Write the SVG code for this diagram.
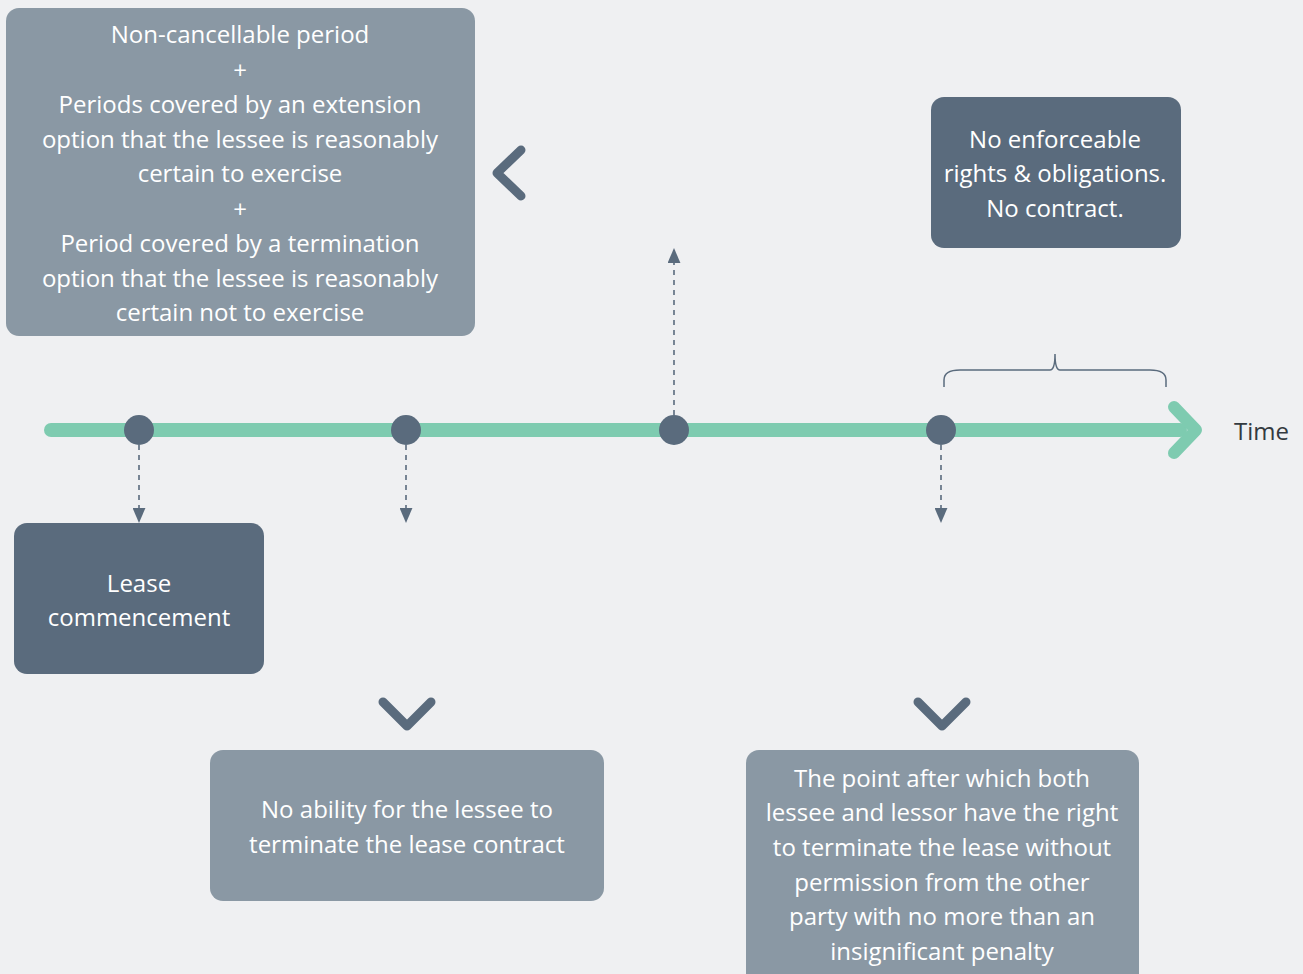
<svg xmlns="http://www.w3.org/2000/svg" width="1303" height="974" viewBox="0 0 1303 974">
<defs>
<style>
.bg{fill:#eff0f2}
.light{fill:#8a98a4}
.dark{fill:#5a6b7d}
.t{font-family:"Open Sans","Noto Sans","Liberation Sans",sans-serif;font-size:24px;fill:#ffffff;text-anchor:middle}
.time{font-family:"Open Sans","Noto Sans","Liberation Sans",sans-serif;font-size:24px;fill:#333a40}
.dash{stroke:#5a6b7d;stroke-width:1.6;stroke-dasharray:5 5;fill:none}
.chev{stroke:#5a6b7d;stroke-width:9;stroke-linecap:round;stroke-linejoin:round;fill:none}
.dot{fill:#5a6b7d}
</style>
<marker id="ahb" viewBox="0 0 14 12" refX="14" refY="6" markerWidth="15" markerHeight="13" markerUnits="userSpaceOnUse" orient="auto">
<path d="M0 0 L14 6 L0 12 Z" fill="#5a6b7d"/>
</marker>
</defs>
<rect class="bg" x="0" y="0" width="1303" height="974"/>

<g id="connectors">
<path d="M51 430 L1180 430" stroke="#7ecbb0" stroke-width="14" stroke-linecap="round" fill="none"/>
<path d="M1174 407 L1196 430 L1174 453" stroke="#7ecbb0" stroke-width="12" stroke-linecap="round" stroke-linejoin="round" fill="none"/>
<path class="dash" d="M139 445 L139 523" marker-end="url(#ahb)"/>
<path class="dash" d="M406 445 L406 523" marker-end="url(#ahb)"/>
<path class="dash" d="M941 445 L941 523" marker-end="url(#ahb)"/>
<path class="dash" d="M674 415 L674 248" marker-end="url(#ahb)"/>
<path d="M944 387 L944 380 Q944 370 960 370 L1050 370 Q1055 370 1055 354 Q1055 370 1060 370 L1150 370 Q1166 370 1166 380 L1166 387" stroke="#5a6b7d" stroke-width="1.5" fill="none"/>
<path class="chev" d="M521 150 L497 173 L521 196"/>
<path class="chev" d="M383 702 L407 726 L431 702"/>
<path class="chev" d="M918 702 L942 726 L966 702"/>
</g>

<g id="dots">
<circle class="dot" cx="139" cy="430" r="15"/>
<circle class="dot" cx="406" cy="430" r="15"/>
<circle class="dot" cx="674" cy="430" r="15"/>
<circle class="dot" cx="941" cy="430" r="15"/>
</g>

<g id="lease-term">
<rect class="light" x="6" y="8" width="469" height="328" rx="13"/>
<text class="t" x="240" y="43">Non-cancellable period</text>
<text class="t" x="240" y="79">+</text>
<text class="t" x="240" y="113">Periods covered by an extension</text>
<text class="t" x="240" y="148">option that the lessee is reasonably</text>
<text class="t" x="240" y="182">certain to exercise</text>
<text class="t" x="240" y="218">+</text>
<text class="t" x="240" y="252">Period covered by a termination</text>
<text class="t" x="240" y="287">option that the lessee is reasonably</text>
<text class="t" x="240" y="321">certain not to exercise</text>
</g>

<g id="no-contract">
<rect class="dark" x="931" y="97" width="250" height="151" rx="13"/>
<text class="t" x="1055" y="148">No enforceable</text>
<text class="t" x="1055" y="182">rights &amp; obligations.</text>
<text class="t" x="1055" y="217">No contract.</text>
</g>

<g id="time-label">
<text class="time" x="1234" y="440">Time</text>
</g>

<g id="commencement">
<rect class="dark" x="14" y="523" width="250" height="151" rx="13"/>
<text class="t" x="139" y="592">Lease</text>
<text class="t" x="139" y="626">commencement</text>
</g>

<g id="no-ability">
<rect class="light" x="210" y="750" width="394" height="151" rx="13"/>
<text class="t" x="407" y="818">No ability for the lessee to</text>
<text class="t" x="407" y="853">terminate the lease contract</text>
</g>

<g id="termination-point">
<rect class="light" x="746" y="750" width="393" height="240" rx="13"/>
<text class="t" x="942" y="787">The point after which both</text>
<text class="t" x="942" y="821">lessee and lessor have the right</text>
<text class="t" x="942" y="856">to terminate the lease without</text>
<text class="t" x="942" y="891">permission from the other</text>
<text class="t" x="942" y="925">party with no more than an</text>
<text class="t" x="942" y="960">insignificant penalty</text>
</g>
</svg>
